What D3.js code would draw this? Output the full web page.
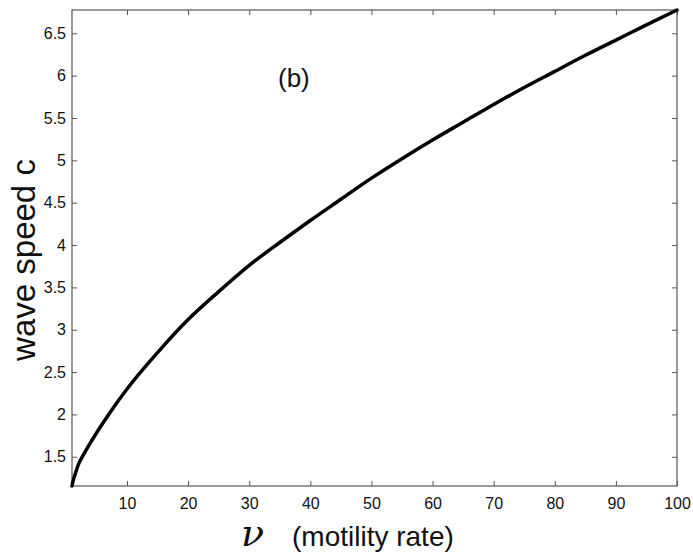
<!DOCTYPE html>
<html>
<head>
<meta charset="utf-8">
<script src="https://cdn.jsdelivr.net/npm/d3@7"></script>
<style>
  body { margin: 0; background: #fff; }
  text { font-family: "Liberation Sans", Arial, Helvetica, sans-serif; }
</style>
</head>
<body>
<svg id="chart"></svg>
<script>
// motility rate (x) and wave speed c (y)
const nu = [1, 1.2, 1.5, 2, 3, 4, 5, 7, 10, 15, 20, 25, 30, 35, 40, 45, 50, 55, 60, 65, 70, 75, 80, 85, 90, 95, 100]
const speed = [1.155, 1.22, 1.29, 1.40, 1.54, 1.665, 1.78, 2.00, 2.30, 2.73, 3.12, 3.45, 3.76, 4.03, 4.29, 4.54, 4.79,
    5.02, 5.24, 5.45, 5.66, 5.86, 6.05, 6.24, 6.42, 6.60, 6.775]
const xTicks = [10, 20, 30, 40, 50, 60, 70, 80, 90, 100]
const yTicks = [1.5, 2, 2.5, 3, 3.5, 4, 4.5, 5, 5.5, 6, 6.5]

const W = 693, H = 556
const m = { left: 72, top: 10, right: 16, bottom: 70 }

const svg = d3.select("#chart")
    .attr("width", W)
    .attr("height", H)

const x = d3.scaleLinear().domain([1, 100]).range([m.left, W - m.right])
const y = d3.scaleLinear().domain([1.155, 6.775]).range([H - m.bottom, m.top])

const axisColor = "#555"
const tickLen = 5

function styleAxis(g) {
    g.select(".domain").remove()
    g.selectAll(".tick line").attr("stroke", axisColor).attr("stroke-width", 1)
    g.selectAll(".tick text").attr("fill", "#111").attr("font-size", "16px")
        .attr("font-family", "'Liberation Sans', Arial, sans-serif")
}

// bottom / left with labels, ticks pointing inward
svg.append("g")
    .attr("transform", `translate(0,${H - m.bottom})`)
    .call(d3.axisBottom(x).tickValues(xTicks).tickSizeInner(-tickLen).tickSizeOuter(0).tickPadding(12).tickFormat(d3.format("d")))
    .call(styleAxis)

svg.append("g")
    .attr("transform", `translate(${m.left},0)`)
    .call(d3.axisLeft(y).tickValues(yTicks).tickSizeInner(-tickLen).tickSizeOuter(0).tickPadding(6).tickFormat(d => d))
    .call(styleAxis)

// top / right ticks, no labels
svg.append("g")
    .attr("transform", `translate(0,${m.top})`)
    .call(d3.axisTop(x).tickValues(xTicks).tickSizeInner(-tickLen).tickSizeOuter(0).tickFormat(""))
    .call(styleAxis)

svg.append("g")
    .attr("transform", `translate(${W - m.right},0)`)
    .call(d3.axisRight(y).tickValues(yTicks).tickSizeInner(-tickLen).tickSizeOuter(0).tickFormat(""))
    .call(styleAxis)

// box
svg.append("rect")
    .attr("x", m.left)
    .attr("y", m.top)
    .attr("width", W - m.left - m.right)
    .attr("height", H - m.top - m.bottom)
    .attr("fill", "none")
    .attr("stroke", axisColor)
    .attr("stroke-width", 1.2)

// the curve
const pts = nu.map((v, i) => [v, speed[i]])
const line = d3.line()
    .x(d => x(d[0]))
    .y(d => y(d[1]))
    .curve(d3.curveMonotoneX)

svg.append("path")
    .datum(pts)
    .attr("d", line)
    .attr("fill", "none")
    .attr("stroke", "#000")
    .attr("stroke-width", 3.5)
    .attr("stroke-linecap", "round")

// labels
svg.append("text")
    .attr("x", 278)
    .attr("y", 87)
    .attr("font-size", "26px")
    .attr("fill", "#111")
    .text("(b)")

svg.append("text")
    .attr("transform", "translate(35,260) rotate(-90)")
    .attr("text-anchor", "middle")
    .attr("font-size", "33px")
    .attr("fill", "#111")
    .text("wave speed c")

const xl = svg.append("text")
    .attr("x", 241)
    .attr("y", 546)
    .attr("fill", "#111")
xl.append("tspan")
    .attr("font-family", "'DejaVu Serif', 'Liberation Serif', serif")
    .attr("font-style", "italic")
    .attr("font-size", "38px")
    .text("ν")
xl.append("tspan")
    .attr("x", 292)
    .attr("font-size", "28px")
    .text("(motility rate)")
</script>
</body>
</html>
